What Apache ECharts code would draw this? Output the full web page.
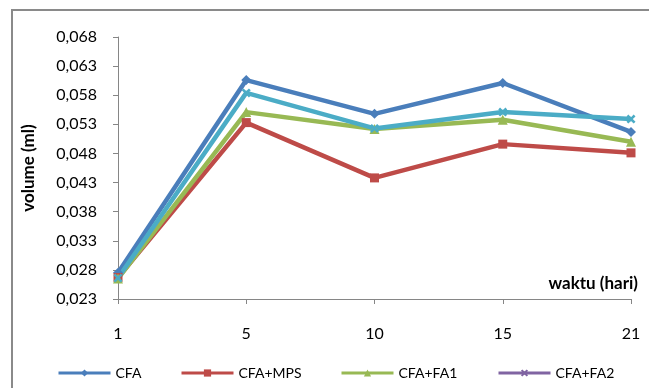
<!DOCTYPE html>
<html><head><meta charset="utf-8">
<script src="https://cdn.jsdelivr.net/npm/echarts@6/dist/echarts.min.js"></script>
<style>html,body{margin:0;padding:0;background:#fff}#c{width:649px;height:388px}</style>
</head><body><div id="c"></div>
<script>
const categories = ['1', '5', '10', '15', '21'];
const cfa    = [0.0275, 0.0606, 0.0548, 0.0601, 0.0517];
const cfaMps = [0.0267, 0.0533, 0.0438, 0.0496, 0.0481];
const cfaFa1 = [0.0265, 0.0551, 0.0522, 0.0538, 0.0500];
const cfaFa2 = [0.0266, 0.0584, 0.0523, 0.0551, 0.0539];
const yMin = 0.023, yMax = 0.068, yStep = 0.005;

const FONT = 'Lato';
const xPath = 'path://M0,2 L2,0 L5,3 L8,0 L10,2 L7,5 L10,8 L8,10 L5,7 L2,10 L0,8 L3,5 Z';
const chart = echarts.init(document.getElementById('c'));
function mk(name, data, color, symbol, size) {
  return {name, type:'line', data, symbol, symbolSize:size, showAllSymbol:true,
    lineStyle:{width:4.5, color}, itemStyle:{color}, z: 2};
}
function leg(name, left, color) {
  return {data:[{name, itemStyle:color?{color}:undefined, lineStyle:color?{color}:undefined}],
    left, top:361, itemWidth:52, itemHeight:9, itemGap:0,
    textStyle:{fontFamily:FONT, fontSize:14, color:'#000', padding:[0,0,0,0]},
    lineStyle:{width:3}};
}
chart.setOption({
  animation:false,
  textStyle:{fontFamily:FONT},
  graphic:[{type:'rect', shape:{x:12, y:10, width:660, height:400},
    style:{fill:'none', stroke:'#8a8a8a', lineWidth:2}, silent:true}],
  grid:{left:118, right:18, top:37, bottom:89},
  legend:[leg('CFA',52), leg('CFA+MPS',175), leg('CFA+FA1',335), leg('CFA+FA2',492,'#8064A2')],
  xAxis:{type:'category', data:categories, boundaryGap:false,
    name:'waktu (hari)', nameLocation:'end', nameGap:7,
    nameTextStyle:{fontFamily:FONT, fontWeight:'bold', fontSize:17, color:'#000', align:'right', verticalAlign:'bottom', padding:[0,0,7,0]},
    axisLine:{lineStyle:{color:'#868686', width:1}},
    axisTick:{show:true, length:5, inside:false, lineStyle:{color:'#868686'}},
    axisLabel:{fontFamily:FONT, fontSize:16, color:'#000', margin:27}},
  yAxis:{type:'value', min:yMin, max:yMax, interval:yStep,
    name:'volume (ml)', nameLocation:'middle', nameGap:81, nameRotate:90,
    nameTextStyle:{fontFamily:FONT, fontWeight:'bold', fontSize:17, color:'#000'},
    splitLine:{show:false},
    axisLine:{show:true, lineStyle:{color:'#868686', width:1}},
    axisTick:{show:true, length:5, lineStyle:{color:'#868686'}},
    axisLabel:{fontFamily:FONT, fontSize:16, color:'#000', margin:21,
      formatter:v=>v.toFixed(3).replace('.', ',')}},
  series:[
    mk('CFA', cfa, '#4A7EBB', 'diamond', 10),
    mk('CFA+MPS', cfaMps, '#BE4B48', 'rect', 9),
    mk('CFA+FA1', cfaFa1, '#98B954', 'triangle', 10),
    mk('CFA+FA2', cfaFa2, '#4BACC6', xPath, 9)
  ]
});
</script></body></html>
